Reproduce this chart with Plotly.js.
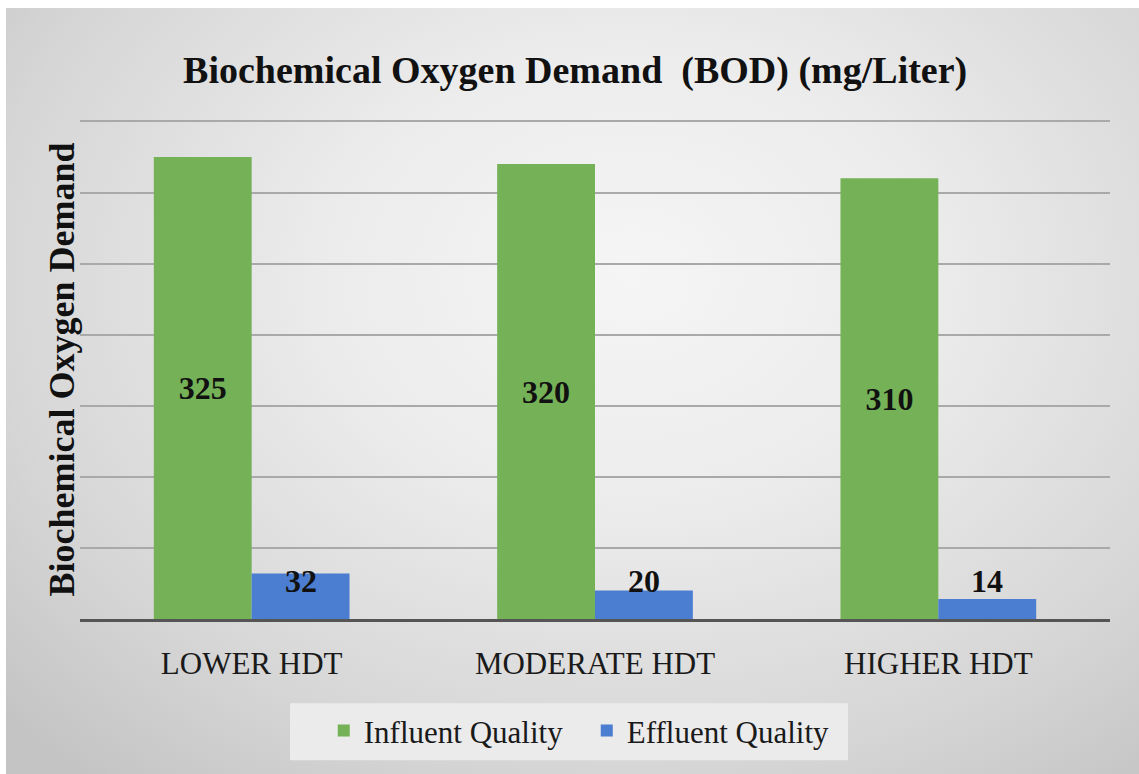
<!DOCTYPE html>
<html>
<head>
<meta charset="utf-8">
<script src="https://cdn.plot.ly/plotly-3.0.1.min.js"></script>
<style>
  html, body { margin: 0; padding: 0; background: #ffffff; }
  #bg { position: absolute; left: 6px; top: 8px; width: 1133px; height: 766px;
        background: radial-gradient(ellipse 75% 85% at 55% 35%, #f5f5f5 0%, #ececec 35%, #d6d6d6 75%, #c4c4c4 100%); }
  #chart { position: absolute; left: 0; top: 0; width: 1139px; height: 774px; }
</style>
</head>
<body>
<div id="bg"></div>
<div id="chart"></div>
<script>
const categories = ["LOWER HDT", "MODERATE HDT", "HIGHER HDT"];
const influent = [325, 320, 310];
const effluent = [32, 20, 14];
const seriesNames = ["Influent Quality", "Effluent Quality"];
const yTitle = "Biochemical Oxygen Demand";
const chartTitle = "Biochemical Oxygen Demand &nbsp;(BOD) (mg/Liter)";

const serif = "Liberation Serif, Times New Roman, serif";

const traces = [
  {
    type: "bar", name: seriesNames[0], x: categories, y: influent,
    marker: { color: "#75b257" },
    text: influent.map(String), textposition: "inside", insidetextanchor: "middle",
    textfont: { family: serif, size: 32, color: "#111111", weight: "bold" },
    hoverinfo: "none"
  },
  {
    type: "bar", name: seriesNames[1], x: categories, y: effluent,
    marker: { color: "#4b7dd0" },
    hoverinfo: "none"
  }
];

const annotations = categories.map((c, i) => ({
  x: c, y: 0, xref: "x", yref: "y", text: "<b>" + effluent[i] + "</b>",
  showarrow: false, xshift: 49, yshift: 18, yanchor: "bottom",
  font: { family: serif, size: 32, color: "#111111" }
}));
annotations.push({
  xref: "paper", yref: "paper", x: -0.0175, y: 0.5, xanchor: "center", yanchor: "middle",
  text: "<b>" + yTitle + "</b>", textangle: -90, showarrow: false,
  font: { family: serif, size: 36, color: "#111111" }
});

const layout = {
  width: 1139, height: 774,
  paper_bgcolor: "rgba(0,0,0,0)", plot_bgcolor: "rgba(0,0,0,0)",
  margin: { l: 80, r: 29, t: 120, b: 155 },
  barmode: "group", bargap: 0.43, bargroupgap: 0,
  title: { text: "<b>" + chartTitle + "</b>",
           font: { family: serif, size: 38, color: "#111111" },
           x: 0.505, xanchor: "center", y: 0.91, yanchor: "middle" },
  xaxis: {
    type: "category", showgrid: false, ticks: "",
    showline: true, linecolor: "#555555", linewidth: 3,
    tickfont: { family: serif, size: 31, color: "#1a1a1a" },
    ticklabelstandoff: 15
  },
  yaxis: {
    range: [0, 351], dtick: 50, showticklabels: false, ticks: "",
    showgrid: true, gridcolor: "#a9a9a9", gridwidth: 2, zeroline: false
  },
  shapes: [{
    type: "rect", xref: "paper", yref: "paper", layer: "below",
    x0: 0.2039, x1: 0.7456, y0: -0.1687, y1: -0.2831,
    fillcolor: "#ebebeb", line: { width: 0 }
  }],
  showlegend: true,
  legend: {
    orientation: "h", x: 0.492, xanchor: "center", y: -0.17, yanchor: "top",
    bgcolor: "rgba(0,0,0,0)", font: { family: serif, size: 31, color: "#1a1a1a" },
    itemsizing: "constant", traceorder: "normal", entrywidth: 218
  },
  annotations: annotations
};

Plotly.newPlot("chart", traces, layout, { staticPlot: true, displayModeBar: false });
</script>
</body>
</html>
